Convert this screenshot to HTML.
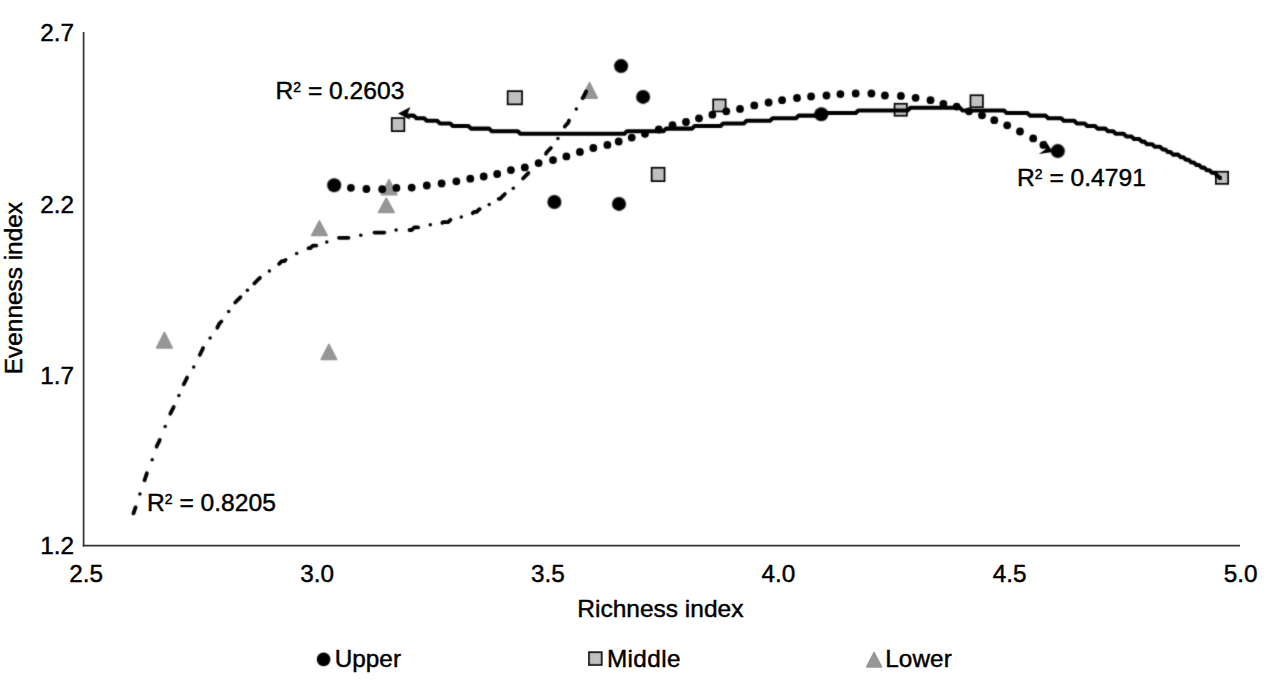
<!DOCTYPE html>
<html><head><meta charset="utf-8"><title>Chart</title>
<style>
html,body{margin:0;padding:0;background:#fff;}
body{width:1272px;height:685px;overflow:hidden;}
svg{display:block;}
text{font-family:"Liberation Sans",sans-serif;fill:#000;stroke:#000;stroke-width:0.45px;stroke-linejoin:round;}
</style></head><body>
<svg width="1272" height="685" viewBox="0 0 1272 685">
<rect width="1272" height="685" fill="#fff"/>
<defs>
<filter id="b1" x="-5%" y="-5%" width="110%" height="110%" color-interpolation-filters="sRGB"><feConvolveMatrix order="3" kernelMatrix="0.0509 0.1238 0.0509 0.1238 0.3012 0.1238 0.0509 0.1238 0.0509" divisor="1" edgeMode="none" preserveAlpha="false"/></filter>
<filter id="b2" x="-5%" y="-5%" width="110%" height="110%" color-interpolation-filters="sRGB"><feConvolveMatrix order="3" kernelMatrix="0.0192 0.1001 0.0192 0.1001 0.5228 0.1001 0.0192 0.1001 0.0192" divisor="1" edgeMode="none" preserveAlpha="false"/></filter>
</defs>
<g stroke="#333" stroke-width="1.7" fill="none">
<line x1="83.6" y1="32" x2="83.6" y2="546.6"/>
<line x1="82.8" y1="545.7" x2="1240" y2="545.7"/>
</g>
<g font-size="24.3" text-anchor="end">
<text x="74" y="40.9">2.7</text>
<text x="74" y="212.7">2.2</text>
<text x="74" y="383.7">1.7</text>
<text x="74" y="554.2">1.2</text>
</g>
<g font-size="24.3" text-anchor="middle">
<text x="86.2" y="581.8">2.5</text>
<text x="317.2" y="581.8">3.0</text>
<text x="548.0" y="581.8">3.5</text>
<text x="778.4" y="581.8">4.0</text>
<text x="1009.6" y="581.8">4.5</text>
<text x="1240.6" y="581.8">5.0</text>
</g>
<text x="577.3" y="616.9" font-size="24.5">Richness index</text>
<text transform="translate(21.8,374.2) rotate(-90)" font-size="24.4">Evenness index</text>
<g fill="#969696" stroke="#969696" stroke-width="1.6" stroke-linejoin="round" filter="url(#b2)">
<path d="M589.5 82.7 L597.3 98.1 L581.7 98.1 Z"/>
<path d="M389.1 179.5 L396.9 194.7 L381.3 194.7 Z"/>
<path d="M386.3 198.2 L394.1 212.4 L378.5 212.4 Z"/>
<path d="M319.4 220.8 L327.2 235.5 L311.6 235.5 Z"/>
<path d="M164.4 332.4 L172.2 347.9 L156.6 347.9 Z"/>
<path d="M328.9 344.3 L336.7 359.5 L321.1 359.5 Z"/>
</g>
<g fill="#c0c0c0" stroke="#000" stroke-width="1.7" filter="url(#b2)">
<rect x="391.75" y="118.05" width="12.60" height="13.10"/>
<rect x="507.65" y="91.15" width="14.40" height="13.20"/>
<rect x="713.15" y="99.45" width="12.50" height="12.00"/>
<rect x="651.65" y="167.75" width="12.90" height="13.40"/>
<rect x="894.55" y="103.75" width="12.40" height="12.00"/>
<rect x="970.45" y="95.25" width="12.50" height="12.00"/>
<rect x="1215.85" y="171.75" width="12.30" height="12.10"/>
</g>
<g fill="#000" filter="url(#b1)">
<circle cx="334.2" cy="185.2" r="7"/>
<circle cx="621.1" cy="66.1" r="7"/>
<circle cx="643.1" cy="96.9" r="7"/>
<circle cx="821.3" cy="114.2" r="7"/>
<circle cx="1057.8" cy="151.1" r="7"/>
<circle cx="554.4" cy="202.0" r="7"/>
<circle cx="619.0" cy="203.9" r="7"/>
</g>
<g filter="url(#b2)">
<g fill="none" stroke="#000" stroke-linejoin="round">
<path d="M405.0 114.2 L406.0 115.6 L413.8 115.6 L416.4 118.2 L424.2 118.2 L426.8 120.8 L437.2 120.8 L439.8 123.4 L450.2 123.4 L452.8 126.0 L468.4 126.0 L471.0 128.6 L489.2 128.6 L491.8 131.2 L517.8 131.2 L520.4 133.8 L624.4 133.8 L627.0 131.2 L663.4 131.2 L666.0 128.6 L692.0 128.6 L694.6 126.0 L720.6 126.0 L723.2 123.4 L744.0 123.4 L746.6 120.8 L770.0 120.8 L772.6 118.2 L796.0 118.2 L798.6 115.6 L824.6 115.6 L827.2 113.0 L855.8 113.0 L858.4 110.4 L907.8 110.4 L910.4 107.8 L959.8 107.8 L962.4 110.4 L1004.0 110.4 L1006.6 113.0 L1027.4 113.0 L1030.0 115.6 L1045.6 115.6 L1048.2 118.2 L1061.2 118.2 L1063.8 120.8 L1074.2 120.8 L1076.8 123.4 L1084.6 123.4 L1087.2 126.0 L1095.0 126.0 L1097.6 128.6 L1105.4 128.6 L1108.0 131.2 L1113.2 131.2 L1115.8 133.8 L1123.6 133.8 L1126.2 136.4 L1131.4 136.4 L1134.0 139.0 L1139.2 139.0 L1141.8 141.6 L1144.4 141.6 L1147.0 144.2 L1152.2 144.2 L1154.8 146.8 L1160.0 146.8 L1162.6 149.4 L1165.2 149.4 L1167.8 152.0 L1170.4 152.0 L1173.0 154.6 L1178.2 154.6 L1180.8 157.2 L1183.4 157.2 L1186.0 159.8 L1188.6 159.8 L1191.2 162.4 L1193.8 162.4 L1196.4 165.0 L1199.0 165.0 L1201.6 167.6 L1204.2 167.6 L1206.8 170.2 L1209.4 170.2 L1212.0 172.8 L1214.6 172.8 L1217.2 175.4 L1219.8 178.0 L1221.8 178.1" stroke-width="4.05"/>
<path d="M133.5 513.4 L133.5 513.4 L135.5 507.4" stroke-width="3.8" stroke-linecap="round"/>
<path d="M144.5 480.3 L146.5 474.4 L146.9 473.2" stroke-width="3.8" stroke-linecap="round"/>
<path d="M156.6 446.7 L156.9 445.8 L159.5 440.6 L159.7 439.9" stroke-width="3.8" stroke-linecap="round"/>
<path d="M170.3 413.7 L172.5 409.4 L173.7 407.0" stroke-width="3.8" stroke-linecap="round"/>
<path d="M183.7 384.3 L185.5 380.8 L187.1 377.6" stroke-width="3.8" stroke-linecap="round"/>
<path d="M199.8 354.9 L201.1 352.2 L203.1 348.1" stroke-width="3.8" stroke-linecap="round"/>
<path d="M217.3 327.7 L219.3 323.6 L221.4 321.5" stroke-width="3.8" stroke-linecap="round"/>
<path d="M235.2 302.5 L237.5 300.2 L240.1 297.6 L240.5 297.2" stroke-width="3.8" stroke-linecap="round"/>
<path d="M254.4 283.3 L255.7 282.0 L258.3 279.4 L259.9 277.8" stroke-width="3.8" stroke-linecap="round"/>
<path d="M279.1 263.8 L281.7 261.2 L284.3 261.2 L285.6 259.9" stroke-width="3.8" stroke-linecap="round"/>
<path d="M308.5 248.2 L310.3 248.2 L312.9 245.6 L315.5 245.6 L316.3 245.6" stroke-width="3.8" stroke-linecap="round"/>
<path d="M339.0 237.8 L341.5 237.8 L344.1 237.8 L346.7 237.8 L348.5 237.8" stroke-width="3.8" stroke-linecap="round"/>
<path d="M374.5 232.6 L375.3 232.6 L377.9 232.6 L380.5 232.6 L383.1 232.6 L384.3 232.6" stroke-width="3.8" stroke-linecap="round"/>
<path d="M409.5 230.0 L411.7 230.0 L414.3 227.4 L416.9 227.4 L418.1 227.4" stroke-width="3.8" stroke-linecap="round"/>
<path d="M442.3 222.8 L442.9 222.2 L445.5 222.2 L448.1 222.2 L450.5 219.8" stroke-width="3.8" stroke-linecap="round"/>
<path d="M472.7 213.2 L474.1 211.8 L476.7 211.8 L479.3 209.2 L479.7 209.2" stroke-width="3.8" stroke-linecap="round"/>
<path d="M498.7 198.8 L500.1 198.8 L502.7 196.2 L504.8 194.1" stroke-width="3.8" stroke-linecap="round"/>
<path d="M523.0 178.5 L523.5 178.0 L526.1 175.4 L528.4 173.1" stroke-width="3.8" stroke-linecap="round"/>
<path d="M546.0 153.7 L546.9 152.0 L549.5 149.4 L550.9 148.0" stroke-width="3.8" stroke-linecap="round"/>
<path d="M564.8 126.6 L565.1 126.0 L567.7 123.4 L569.1 120.6" stroke-width="3.8" stroke-linecap="round"/>
<path d="M582.6 98.1 L583.3 97.4 L585.9 92.2 L586.2 91.5" stroke-width="3.8" stroke-linecap="round"/>
</g>
<g fill="#000">
<circle cx="139.9" cy="494.1" r="1.75"/>
<circle cx="152.2" cy="459.8" r="1.75"/>
<circle cx="165.2" cy="426.6" r="1.75"/>
<circle cx="178.9" cy="395.4" r="1.75"/>
<circle cx="193.7" cy="367.1" r="1.75"/>
<circle cx="210.1" cy="338.0" r="1.75"/>
<circle cx="228.7" cy="311.6" r="1.75"/>
<circle cx="247.4" cy="290.3" r="1.75"/>
<circle cx="269.4" cy="270.9" r="1.75"/>
<circle cx="296.7" cy="253.4" r="1.75"/>
<circle cx="326.8" cy="242.1" r="1.75"/>
<circle cx="360.8" cy="235.2" r="1.75"/>
<circle cx="396.1" cy="230.0" r="1.75"/>
<circle cx="430.3" cy="224.8" r="1.75"/>
<circle cx="461.3" cy="217.0" r="1.75"/>
<circle cx="489.2" cy="204.5" r="1.75"/>
<circle cx="513.3" cy="188.2" r="1.75"/>
<circle cx="537.5" cy="164.0" r="1.75"/>
<circle cx="557.9" cy="138.4" r="1.75"/>
<circle cx="576.3" cy="108.9" r="1.75"/>
</g>
<g>
</g>
<g fill="#000">
<circle cx="350.9" cy="187.8" r="3.9"/>
<circle cx="366.4" cy="189.0" r="3.9"/>
<circle cx="382.2" cy="189.2" r="3.9"/>
<circle cx="396.4" cy="187.9" r="3.9"/>
<circle cx="411.7" cy="187.6" r="3.9"/>
<circle cx="426.8" cy="185.5" r="3.9"/>
<circle cx="441.6" cy="183.5" r="3.9"/>
<circle cx="456.4" cy="181.3" r="3.9"/>
<circle cx="470.3" cy="178.7" r="3.9"/>
<circle cx="483.7" cy="176.5" r="3.9"/>
<circle cx="497.2" cy="174.0" r="3.9"/>
<circle cx="510.9" cy="170.1" r="3.9"/>
<circle cx="524.8" cy="167.4" r="3.9"/>
<circle cx="538.6" cy="163.1" r="3.9"/>
<circle cx="553.0" cy="160.1" r="3.9"/>
<circle cx="566.4" cy="156.4" r="3.9"/>
<circle cx="579.9" cy="151.9" r="3.9"/>
<circle cx="593.3" cy="148.0" r="3.9"/>
<circle cx="607.4" cy="144.9" r="3.9"/>
<circle cx="618.7" cy="141.5" r="3.9"/>
<circle cx="631.7" cy="137.6" r="3.9"/>
<circle cx="645.0" cy="133.8" r="3.9"/>
<circle cx="658.8" cy="129.5" r="3.9"/>
<circle cx="672.5" cy="125.2" r="3.9"/>
<circle cx="686.0" cy="122.0" r="3.9"/>
<circle cx="699.0" cy="118.3" r="3.9"/>
<circle cx="712.4" cy="114.7" r="3.9"/>
<circle cx="726.3" cy="111.3" r="3.9"/>
<circle cx="740.0" cy="108.9" r="3.9"/>
<circle cx="754.3" cy="105.4" r="3.9"/>
<circle cx="768.6" cy="102.5" r="3.9"/>
<circle cx="782.1" cy="100.2" r="3.9"/>
<circle cx="797.0" cy="98.0" r="3.9"/>
<circle cx="811.1" cy="96.5" r="3.9"/>
<circle cx="826.5" cy="95.5" r="3.9"/>
<circle cx="840.4" cy="94.1" r="3.9"/>
<circle cx="855.7" cy="93.5" r="3.9"/>
<circle cx="871.4" cy="93.5" r="3.9"/>
<circle cx="884.9" cy="95.5" r="3.9"/>
<circle cx="900.9" cy="95.9" r="3.9"/>
<circle cx="915.6" cy="97.8" r="3.9"/>
<circle cx="930.5" cy="100.2" r="3.9"/>
<circle cx="943.4" cy="103.8" r="3.9"/>
<circle cx="956.7" cy="106.6" r="3.9"/>
<circle cx="969.0" cy="111.3" r="3.9"/>
<circle cx="982.0" cy="115.3" r="3.9"/>
<circle cx="994.3" cy="120.2" r="3.9"/>
<circle cx="1007.2" cy="125.3" r="3.9"/>
<circle cx="1020.0" cy="131.5" r="3.9"/>
<circle cx="1033.2" cy="138.4" r="3.9"/>
<circle cx="1043.4" cy="144.9" r="3.9"/>
</g>
<path d="M398 113.6 L410.5 106.9 L407.3 114.3 L410.2 119.7 Z" fill="#000"/>
<path d="M1053 152 L1044.9 139.9 L1045.8 148.9 L1038.9 154.1 Z" fill="#000"/>
</g>
<g font-size="24.6">
<text x="275.5" y="99.4">R<tspan font-size="14" dy="-7.3">2</tspan><tspan dy="7.3"> = 0.2603</tspan></text>
<text x="1017.0" y="186.3">R<tspan font-size="14" dy="-7.3">2</tspan><tspan dy="7.3"> = 0.4791</tspan></text>
<text x="147.0" y="511.4">R<tspan font-size="14" dy="-7.3">2</tspan><tspan dy="7.3"> = 0.8205</tspan></text>
</g>
<circle cx="323.6" cy="659.4" r="6.8" fill="#000" filter="url(#b2)"/>
<rect x="588.85" y="652.15" width="12.9" height="12.9" fill="#c0c0c0" stroke="#000" stroke-width="1.7" filter="url(#b2)"/>
<path d="M874.1 652.5 L881.5 666.9 L866.7 666.9 Z" fill="#969696" stroke="#969696" stroke-width="1.6" stroke-linejoin="round"/>
<g font-size="24.3">
<text x="334.8" y="667">Upper</text>
<text x="606.9" y="667" letter-spacing="0.4">Middle</text>
<text x="885.2" y="667" letter-spacing="0.1">Lower</text>
</g>
</svg>
</body></html>
